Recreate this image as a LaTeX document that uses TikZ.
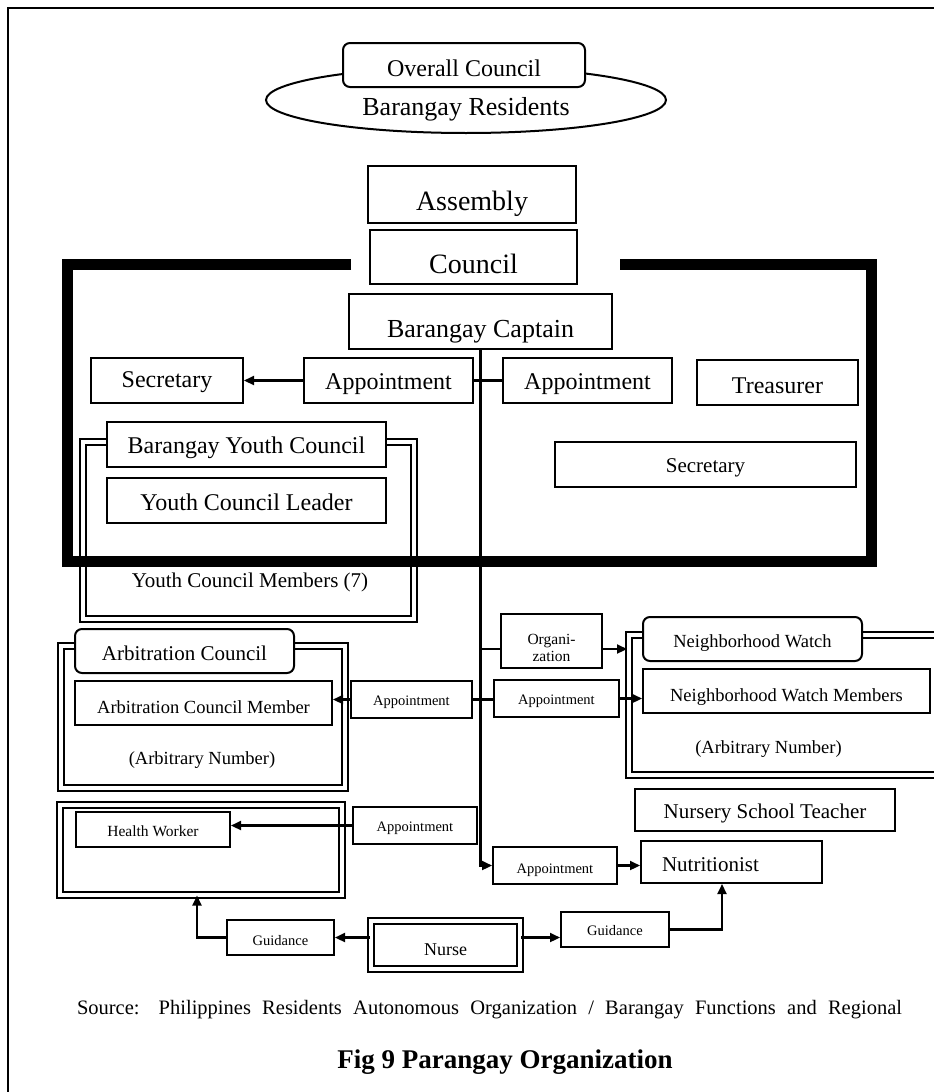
\documentclass[tikz,border=0pt]{standalone}
\usepackage{fontspec}
\setmainfont{Liberation Serif}
\usetikzlibrary{shapes.geometric,arrows.meta}

\begin{document}
\begin{tikzpicture}[
  x=1pt, y=-1pt,
  >={Triangle[length=10pt,width=9pt]},
  box/.style={draw, fill=white, line width=2pt, inner sep=0pt, text depth=0pt,
    font=\fontsize{#1}{#1}\selectfont}, % plain boxes
  roundbox/.style={box=#1, rounded corners=7pt},
  doublebox/.style={draw, double, line width=2pt, double distance=4pt, inner sep=0pt},
  dim/.style 2 args={minimum width=#1pt, minimum height=#2pt},
  low/.style={text height=#1pt},
  txt/.style={anchor=base, inner sep=0pt, font=\fontsize{#1}{#1}\selectfont},
  link/.style={line width=2.2pt}
]
  \useasboundingbox (0,0) rectangle (934,1092);
  \draw[line width=2pt] (934,8) -- (8,8) -- (8,1092);

  \node[box=26, ellipse, dim={400}{66}, low=30] (residents) at (466,100) {Barangay Residents};
  \node[roundbox=24, dim={242}{44}, low=22] (overall) at (464,65) {Overall Council};
  \node[box=28, dim={208}{57}, low=31] (assembly) at (472,194.5) {Assembly};
  \node[box=28, dim={207}{54}, low=32] (council) at (473.5,257) {Council};

  \node[box=26, dim={263}{55}, low=31] (captain) at (480.5,321.5) {Barangay Captain};
  \node[box=24, dim={152}{45}, low=13] (secL) at (167,380.5) {Secretary};
  \node[box=24, dim={169}{45}, low=17] (appL) at (388.5,380.5) {Appointment};
  \node[box=24, dim={169}{45}, low=17] (appR) at (587.5,380.5) {Appointment};
  \node[box=24, dim={161}{45}, low=21] (treasurer) at (777.5,382.5) {Treasurer};
  \node[box=21, dim={301}{45}, low=15] (secR) at (705.5,464.5) {Secretary};

  \node[doublebox, dim={331}{176.5}] (youth) at (248.5,530.25) {};
  \node[box=24, dim={279}{45}, low=17] (ycouncil) at (246.5,444.5) {Barangay Youth Council};
  \node[box=24, dim={279}{45}, low=19] (yleader) at (246.5,500.5) {Youth Council Leader};
  \node[txt=21] (ymembers) at (250,587) {Youth Council Members (7)};

  % heavy frame of the council
  \draw[line width=11pt] (351,264.5) -- (67.5,264.5) -- (67.5,561.5) -- (871.5,561.5)
    -- (871.5,264.5) -- (620,264.5);

  \node[doublebox, dim={284}{141.5}] (arb) at (202.5,716.75) {};
  \node[roundbox=21, dim={219}{44}, low=18] (arbcouncil) at (184.5,651) {Arbitration Council};
  \node[box=18.5, dim={257}{44}, low=20] (arbmember) at (203.5,703) {Arbitration Council Member};
  \node[txt=18.5] (arbnumber) at (202,764) {(Arbitrary Number)};
  \node[box=14.5, dim={121}{37}, low=11] (appArb) at (411.5,699.5) {Appointment};

  \node[box=15.5, dim={101}{54}, align=center, font=\fontsize{15.5}{17}\selectfont, low=40] (org) at (551.5,641) {Organi-\\zation};
  \node[box=14.5, dim={125}{37}, low=11] (appNW) at (556.5,698.5) {Appointment};

  \node[doublebox, dim={321}{140}] (nw) at (789.5,705) {};
  \node[roundbox=18.5, dim={219}{44}, low=16] (nwwatch) at (752.5,639) {Neighborhood Watch};
  \node[box=18.5, dim={287}{44}, low=20] (nwmembers) at (786.5,691) {Neighborhood Watch Members};
  \node[txt=18.5] (nwnumber) at (768.5,753) {(Arbitrary Number)};

  \node[box=21, dim={260}{42}, low=16] (nursery) at (765,810) {Nursery School Teacher};
  \node[box=21, dim={181}{42}, low=18, text width=139pt, align=left] (nutri) at (731.5,862) {Nutritionist};
  \node[box=14.5, dim={124}{37}, low=15] (appNut) at (555,865.5) {Appointment};

  \node[doublebox, dim={282}{89.5}] (health) at (200.5,849.75) {};
  \node[box=15.5, dim={154}{35}, low=13] (hworker) at (153,829.5) {Health Worker};
  \node[box=14.5, dim={124}{37}, low=11] (appHW) at (415,825.5) {Appointment};

  \node[box=14.5, dim={107}{35}, low=15] (guideL) at (280.5,937.5) {Guidance};
  \node[box=18, doublebox, dim={149}{48}, low=20] (nurse) at (445.5,945) {Nurse};
  \node[box=14.5, dim={108}{35}, low=11] (guideR) at (615,929.5) {Guidance};

  \node[txt=20.5] (source) at (489.5,1014) {\makebox[825pt][s]{Source: Philippines Residents Autonomous Organization / Barangay Functions and Regional}};
  \node[txt=27, font=\fontsize{27}{27}\selectfont\bfseries] (title) at (505,1068) {Fig 9 Parangay Organization};

  % connectors
  \draw[link, ->] (captain.south) |- (appNut.west);
  \draw[link, ->] (appL.west) -- (secL.east);
  \draw[link] (appL.east) -- (appR.west);
  \draw[link, ->] (appArb.west) -- (appArb.west -| arbmember.east);
  \draw[link] (appArb.east) -- (appArb.east -| appNW.west);
  \draw[link, ->] (appNW.east) -- (appNW.east -| nwmembers.west);
  \draw[link] ([yshift=-8pt]org.west) -| (captain.south);
  \draw[link, ->] ([yshift=-8pt]org.east) -- +(24,0);
  \draw[link, ->] (appHW.west) -- (appHW.west -| hworker.east);
  \draw[link, ->] (appNut.east) -- (appNut.east -| nutri.west);
  \draw[link, ->] (nurse.west |- guideL.east) -- (guideL.east);
  \draw[link, ->] (guideL.west) -| ([xshift=-3.5pt]health.south);
  \draw[link, ->] (nurse.east |- guideL.east) -- (guideR.west |- guideL.east);
  \draw[link, ->] (guideR.east) -| ([xshift=-9.5pt]nutri.south);
\end{tikzpicture}
\end{document}
